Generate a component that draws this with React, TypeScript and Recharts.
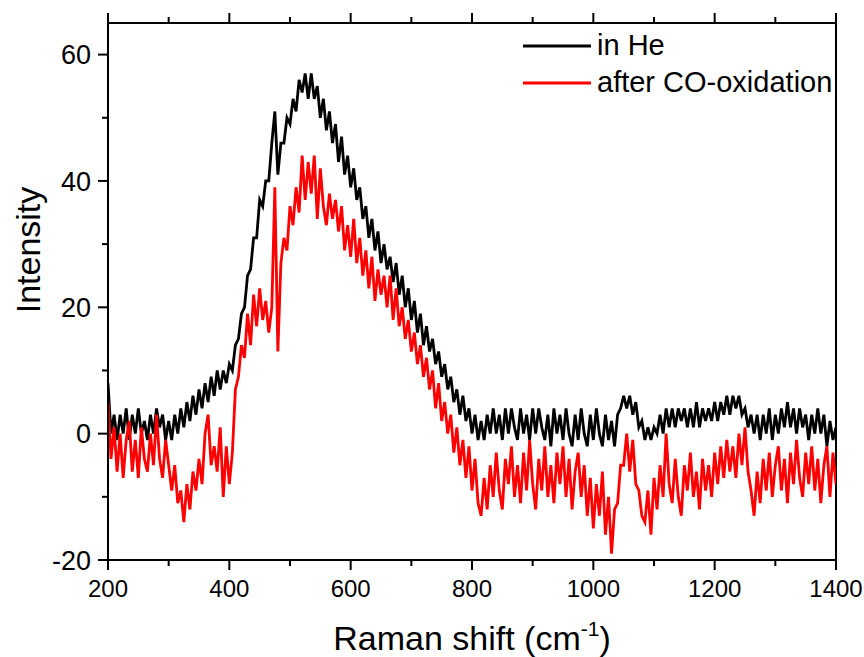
import React from "react";
import { LineChart, Line, XAxis, YAxis, ReferenceLine, Legend } from "recharts";

const FONT = "'Liberation Sans', Arial, sans-serif";

// Raman shift grid: 200..1400 cm-1, every 5 cm-1
const shiftStart = 200;
const shiftStep = 5;

const inHe = [
    8, 0, 3, -1, 3, 0, 4, -1, 3, 0,
    4, 0, 2, -1, 3, 0, 4, 1, 3, -1,
    2, -1, 3, 0, 4, 1, 5, 2, 6, 3,
    7, 4, 8, 5, 9, 6, 10, 7, 10, 8,
    11, 10, 14, 15, 19, 20, 25, 26, 31, 31,
    37, 36, 40, 40, 46, 51, 41, 46, 46, 50,
    49, 53, 51, 56, 54, 57, 53, 57, 53, 55,
    50, 53, 48, 51, 46, 49, 43, 47, 41, 44,
    39, 42, 37, 39, 34, 36, 31, 34, 29, 32,
    27, 30, 26, 28, 24, 27, 22, 25, 20, 23,
    18, 21, 16, 19, 14, 17, 13, 15, 11, 13,
    9, 11, 7, 9, 5, 7, 3, 6, 2, 4,
    0, 3, -1, 2, -1, 3, 0, 4, 0, 3,
    -1, 4, 0, 4, 1, -1, 4, 0, 3, -1,
    4, 0, 4, 1, -1, 3, -2, 4, 0, 3,
    -1, 4, 0, -2, 3, -1, 4, 0, -2, 3,
    -1, 4, 0, -2, 3, -1, 2, -2, 3, 4,
    6, 4, 6, 3, 5, 1, 2, -1, 1, -1,
    1, 0, 3, 0, 4, 1, 4, 1, 4, 2,
    4, 1, 4, 1, 5, 1, 4, 2, 4, 2,
    5, 2, 5, 3, 6, 3, 6, 4, 6, 3,
    4, 1, 3, 0, 3, -1, 3, 0, 4, -1,
    3, 0, 4, 1, 5, 1, 4, 0, 4, 1,
    3, -1, 3, 0, 4, 0, 3, -2, 2, -1,
    1,
];

const afterCO = [
    5, -4, 1, -6, 0, -7, -1, 2, -6, -1,
    -7, 1, -4, -6, 0, -5, 3, -4, -7, -1,
    -5, -9, -5, -11, -9, -14, -8, -12, -6, -9,
    -4, -8, 0, 3, -5, -2, -6, 1, -10, -2,
    -8, -3, 7, 9, 14, 12, 19, 14, 22, 17,
    23, 18, 21, 16, 20, 39, 13, 27, 31, 29,
    36, 33, 39, 35, 44, 37, 43, 38, 44, 34,
    42, 36, 33, 38, 34, 37, 32, 36, 29, 33,
    28, 34, 27, 31, 25, 29, 23, 28, 21, 26,
    22, 25, 20, 25, 18, 23, 17, 20, 15, 18,
    13, 16, 11, 14, 9, 12, 7, 10, 4, 8,
    2, 5, 0, 3, -3, 1, -5, -1, -7, -2,
    -9, -4, -11, -13, -7, -12, -5, -10, -3, -9,
    -12, -4, -8, -2, -10, -5, -11, -3, -9, -1,
    -8, -12, -4, -9, -2, -10, -5, -11, -3, -8,
    -2, -10, -4, -12, -6, -3, -10, -5, -13, -7,
    -15, -8, -13, -6, -16, -10, -19, -12, -11, -5,
    -5, 0, -6, -1, -8, -9, -13, -14, -9, -16,
    -7, -12, -5, -10, 0, -8, -11, -4, -10, -13,
    -5, -9, -3, -10, -6, -12, -4, -9, -5, -10,
    -3, -8, -2, -7, -1, -6, -2, -7, 0, -5,
    1, -6, -9, -13, -6, -11, -4, -9, -3, -10,
    -5, -2, -9, -4, -11, -3, -8, -1, -7, -10,
    -3, -8, -2, -9, -4, -11, -5, -2, -10, -3,
    -8,
];

const seriesNames = ["in He", "after CO-oxidation"];
const seriesColors = ["#000000", "#ff0000"];

const xTicks = [200, 300, 400, 500, 600, 700, 800, 900, 1000, 1100, 1200, 1300, 1400];
const yTicks = [-20, -10, 0, 10, 20, 30, 40, 50, 60];

const data = inHe.map((v, i) => ({
    shift: shiftStart + i * shiftStep,
    inHe: v,
    afterCO: afterCO[i],
}));

function BottomTick({ x, y, payload }: any) {
    const major = payload.value % 200 === 0;
    return (
        <g>
            <line x1={x} y1={y} x2={x} y2={y + (major ? 10 : 6)} stroke="#000" strokeWidth={2} />
            {major && (
                <text x={x} y={y + 37} textAnchor="middle" fontSize={24} fontFamily={FONT} fill="#000">
                    {payload.value}
                </text>
            )}
        </g>
    );
}

function TopTick({ x, y, payload }: any) {
    const major = payload.value % 200 === 0;
    return <line x1={x} y1={y} x2={x} y2={y - (major ? 10 : 6)} stroke="#000" strokeWidth={2} />;
}

function LeftTick({ x, y, payload }: any) {
    const major = payload.value % 20 === 0;
    return (
        <g>
            <line x1={x} y1={y} x2={x - (major ? 10 : 6)} y2={y} stroke="#000" strokeWidth={2} />
            {major && (
                <text x={x - 17} y={y} dy="0.36em" textAnchor="end" fontSize={27} fontFamily={FONT} fill="#000">
                    {payload.value}
                </text>
            )}
        </g>
    );
}

function XTitle({ viewBox }: any) {
    const cx = viewBox.x + viewBox.width / 2;
    return (
        <text x={cx} y={viewBox.y + 90} textAnchor="middle" fontSize={34} fontFamily={FONT} fill="#000">
            Raman shift (cm
            <tspan dy={-14} fontSize={21}>-1</tspan>
            <tspan dy={14}>)</tspan>
        </text>
    );
}

function YTitle() {
    return (
        <text x={40} y={250} transform="rotate(-90 40 250)" textAnchor="middle" fontSize={34} fontFamily={FONT} fill="#000">
            Intensity
        </text>
    );
}

function LegendBox({ payload }: any) {
    const items = seriesNames
        .map((n) => (payload || []).find((p: any) => p.value === n))
        .filter(Boolean);
    return (
        <div style={{ fontFamily: FONT, fontSize: 29, color: "#000" }}>
            {items.map((p: any) => (
                <div key={p.value} style={{ display: "flex", alignItems: "center", height: 37 }}>
                    <svg width={68} height={4} style={{ display: "block" }}>
                        <line x1={0} y1={2} x2={68} y2={2} stroke={p.color} strokeWidth={3} />
                    </svg>
                    <span style={{ marginLeft: 6, whiteSpace: "nowrap" }}>{p.value}</span>
                </div>
            ))}
        </div>
    );
}

export default function App() {
    return (
        <div style={{ position: "absolute", left: 0, top: 0, width: 864, height: 657, background: "#fff" }}>
            <LineChart width={864} height={657} data={data} margin={{ top: 13, right: 28, bottom: 37, left: 48 }}>
                <XAxis
                    dataKey="shift"
                    type="number"
                    domain={[200, 1400]}
                    ticks={xTicks}
                    allowDataOverflow
                    height={60}
                    axisLine={{ stroke: "#000", strokeWidth: 2 }}
                    tickLine={false}
                    tickSize={0}
                    tickMargin={0}
                    tick={<BottomTick />}
                    interval={0}
                    label={<XTitle />}
                />
                <XAxis
                    xAxisId="top"
                    orientation="top"
                    dataKey="shift"
                    type="number"
                    domain={[200, 1400]}
                    ticks={xTicks}
                    allowDataOverflow
                    height={10}
                    axisLine={{ stroke: "#000", strokeWidth: 2 }}
                    tickLine={false}
                    tickSize={0}
                    tickMargin={0}
                    tick={<TopTick />}
                    interval={0}
                />
                <YAxis
                    type="number"
                    domain={[-20, 65]}
                    ticks={yTicks}
                    allowDataOverflow
                    width={60}
                    axisLine={{ stroke: "#000", strokeWidth: 2 }}
                    tickLine={false}
                    tickSize={0}
                    tickMargin={0}
                    tick={<LeftTick />}
                    interval={0}
                    label={<YTitle />}
                />
                <ReferenceLine x={1400} stroke="#000" strokeWidth={2} />
                <Legend
                    layout="vertical"
                    align="center"
                    verticalAlign="middle"
                    content={<LegendBox />}
                    wrapperStyle={{ top: 27, left: 523, width: 330 }}
                />
                <Line
                    type="linear"
                    dataKey="inHe"
                    name={seriesNames[0]}
                    stroke={seriesColors[0]}
                    strokeWidth={2.8}
                    dot={false}
                    isAnimationActive={false}
                />
                <Line
                    type="linear"
                    dataKey="afterCO"
                    name={seriesNames[1]}
                    stroke={seriesColors[1]}
                    strokeWidth={2.8}
                    dot={false}
                    isAnimationActive={false}
                />
            </LineChart>
        </div>
    );
}
